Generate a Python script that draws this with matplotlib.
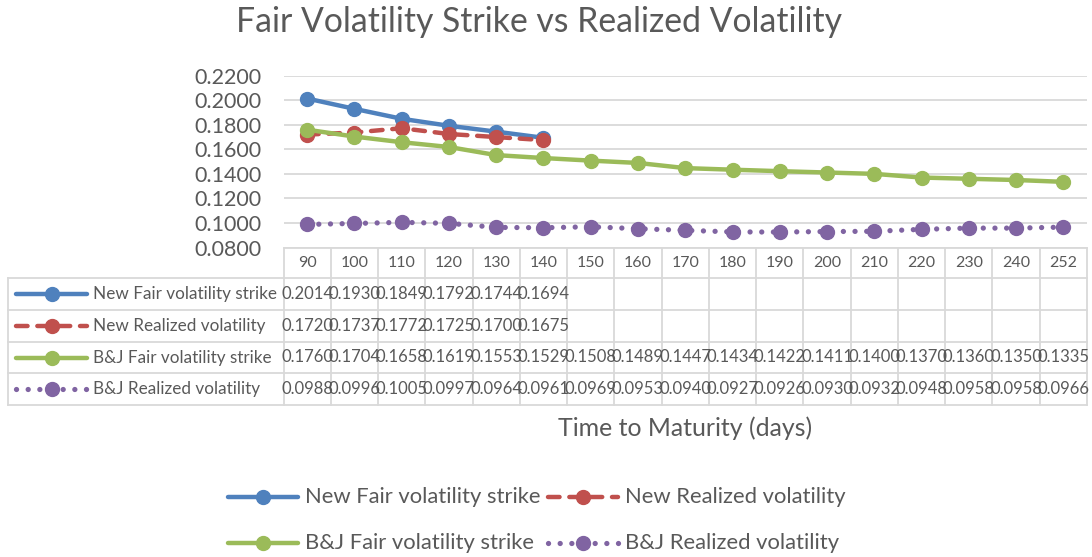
import matplotlib
matplotlib.use("Agg")
import matplotlib.pyplot as plt
from matplotlib.ticker import FormatStrFormatter

# data
days = ["90", "100", "110", "120", "130", "140", "150", "160", "170",
        "180", "190", "200", "210", "220", "230", "240", "252"]
new_fair = [0.2014, 0.1930, 0.1849, 0.1792, 0.1744, 0.1694]
new_real = [0.1720, 0.1737, 0.1772, 0.1725, 0.1700, 0.1675]
bj_fair = [0.1760, 0.1704, 0.1658, 0.1619, 0.1553, 0.1529, 0.1508, 0.1489, 0.1447,
           0.1434, 0.1422, 0.1411, 0.1400, 0.1370, 0.1360, 0.1350, 0.1335]
bj_real = [0.0988, 0.0996, 0.1005, 0.0997, 0.0964, 0.0961, 0.0969, 0.0953, 0.0940,
           0.0927, 0.0926, 0.0930, 0.0932, 0.0948, 0.0958, 0.0958, 0.0966]
names = ["New Fair volatility strike", "New Realized volatility",
         "B&J Fair volatility strike", "B&J Realized volatility"]
yticks = [0.08, 0.10, 0.12, 0.14, 0.16, 0.18, 0.20, 0.22]

series = [new_fair, new_real, bj_fair, bj_real]
colors = ["#4F81BD", "#C0504D", "#9BBB59", "#8064A2"]
widths = [3.2, 3.2, 3.2, 3.8]
styles = [dict(linestyle="-"),
          dict(dashes=(2.6, 2.2), dash_capstyle="round"),
          dict(linestyle="-"),
          dict(dashes=(0.01, 2.2), dash_capstyle="round")]
grey = "#595959"
lgrey = "#d9d9d9"

plt.rcParams['font.family'] = ['Lato', 'DejaVu Sans']
W, H = 1092, 557
fig = plt.figure(figsize=(W / 100, H / 100), dpi=100)

# overlay in pixel coords for table/legend/text
bg = fig.add_axes([0, 0, 1, 1])
bg.set_xlim(0, W)
bg.set_ylim(H, 0)
bg.axis("off")

L, R, T, B = 283.5, 1087, 75.7, 247.5
ax = fig.add_axes([L / W, 1 - B / H, (R - L) / W, (B - T) / H])
ax.patch.set_visible(False)
x = list(range(len(days)))
for s, c, lw, st in zip(series, colors, widths, styles):
    ax.plot(x[:len(s)], s, color=c, lw=lw, marker="o", markersize=10,
            solid_capstyle="round", **st)
ax.set_xlim(-0.5, len(days) - 0.5)
ax.set_ylim(0.08, 0.22)
ax.set_yticks(yticks)
ax.yaxis.set_major_formatter(FormatStrFormatter("%.4f"))
ax.tick_params(axis="y", length=0, labelsize=15.5, labelcolor=grey, pad=16)
ax.set_xticks([])
ax.grid(axis="y", color=lgrey, lw=1.3)
ax.set_axisbelow(True)
for sp in ax.spines.values():
    sp.set_visible(False)

fig.text(539 / W, 1 - 22 / H, "Fair Volatility Strike vs Realized Volatility",
         ha="center", va="center", fontsize=24.3, color=grey)

# data table
cw = (R - L) / len(days)
rows = [248, 278, 310, 342, 373, 405]
bg.plot([L, R], [rows[0], rows[0]], color=lgrey, lw=1.3)
for yy in rows[1:]:
    bg.plot([8, R], [yy, yy], color=lgrey, lw=1.3)
bg.plot([8, 8], [rows[1], rows[-1]], color=lgrey, lw=1.3)
for k in range(len(days) + 1):
    xx = L + k * cw
    bg.plot([xx, xx], [rows[0], rows[-1]], color=lgrey, lw=1.3)
for k, d in enumerate(days):
    bg.text(L + (k + 0.5) * cw, (rows[0] + rows[1]) / 2, d, ha="center",
            va="center", fontsize=11.5, color=grey)
for i, (s, c, lw, st, n) in enumerate(zip(series, colors, widths, styles, names)):
    yc = (rows[i + 1] + rows[i + 2]) / 2
    bg.plot([16, 87], [yc, yc], color=c, lw=lw, solid_capstyle="round", **st)
    bg.plot([52], [yc], marker="o", color=c, markersize=10)
    bg.text(93, yc, n, ha="left", va="center", fontsize=12.3, color=grey)
    for k, v in enumerate(s):
        bg.text(L + (k + 0.5) * cw, yc, "%.4f" % v, ha="center", va="center",
                fontsize=12, color=grey)

bg.text(685, 428, "Time to Maturity (days)", ha="center", va="center",
        fontsize=17.9, color=grey)

# legend
pos = [(228, 497), (548, 497), (228, 543), (548, 543)]
for (lx, ly), c, lw, st, n in zip(pos, colors, widths, styles, names):
    bg.plot([lx, lx + 70], [ly, ly], color=c, lw=lw, solid_capstyle="round", **st)
    bg.plot([lx + 35], [ly], marker="o", color=c, markersize=10)
    bg.text(lx + 77, ly, n, ha="left", va="center", fontsize=15.8, color=grey)

fig.savefig("out.png", dpi=100)
